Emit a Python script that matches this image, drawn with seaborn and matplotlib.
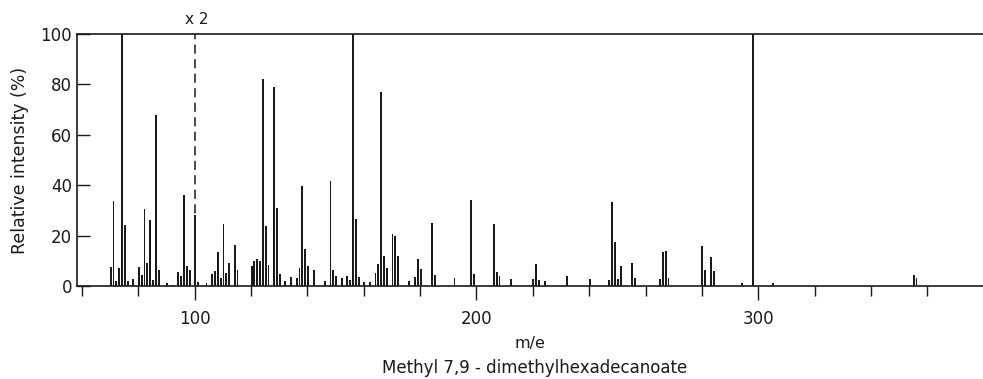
import matplotlib
matplotlib.use("Agg")
import matplotlib.pyplot as plt
import seaborn as sns
import pandas as pd

# Mass spectrum of methyl 7,9-dimethylhexadecanoate (ions above m/e 100 shown x2)
mz = [70, 71, 72, 73, 74, 75, 76, 78, 80, 81, 82, 83, 84, 85, 86, 87, 90, 92,
      94, 95, 96, 97, 98, 100, 101, 104, 106, 107, 108, 109, 110, 111, 112,
      114, 115, 120, 121, 122, 123, 124, 125, 126, 128, 129, 130, 132, 134,
      136, 137, 138, 139, 140, 142, 146, 148, 149, 150, 152, 154, 155, 156,
      157, 158, 160, 162, 164, 165, 166, 167, 168, 170, 171, 172, 176, 178,
      179, 180, 184, 185, 192, 198, 199, 206, 207, 208, 212, 220, 221, 222,
      224, 232, 240, 247, 248, 249, 250, 251, 255, 256, 265, 266, 267, 268,
      280, 281, 283, 284, 294, 298, 305, 355, 356]
intensity = [7.6, 33.6, 2.0, 7.3, 100, 24.4, 1.9, 2.7, 7.7, 4.3, 30.4, 9.3,
             26.0, 2.3, 68.0, 6.3, 1.0, 0.5, 5.7, 4.0, 36.3, 8.0, 6.4, 28.0,
             1.5, 1.2, 4.7, 5.9, 13.3, 3.3, 24.7, 5.3, 9.0, 16.4, 6.4, 8.0,
             9.9, 10.8, 10.0, 82.0, 24.0, 8.2, 79.0, 31.0, 4.6, 1.8, 3.6, 3.2,
             7.2, 39.5, 14.5, 8.0, 6.2, 1.8, 41.5, 6.4, 4.0, 3.2, 4.0, 2.4,
             100, 26.7, 3.6, 1.4, 1.4, 5.0, 8.7, 77.0, 12.0, 7.0, 20.7, 19.7,
             12.0, 1.8, 3.6, 10.7, 6.7, 25.0, 4.3, 3.1, 34.2, 4.8, 24.5, 5.4,
             3.8, 2.9, 2.7, 8.8, 2.5, 1.8, 3.9, 2.6, 2.2, 33.3, 17.3, 2.7, 7.8,
             9.1, 3.0, 2.8, 13.6, 14.0, 3.3, 15.7, 6.4, 11.6, 5.9, 1.3, 100,
             1.1, 4.5, 3.2]

scale_break = 100          # m/e above which intensities are magnified
scale_label = "x 2"
y_ticks = [0, 20, 40, 60, 80, 100]
x_major = [100, 200, 300]
x_minor = [60, 80, 120, 140, 160, 180, 220, 240, 260, 280, 320, 340, 360]

sns.set_theme(style="ticks")
plt.rcParams["font.family"] = ["DejaVu Sans"]
ink = "#1a1a1a"

fig = plt.figure(figsize=(9.83, 3.79), dpi=100)
ax = fig.add_axes([77 / 983, 93 / 379, 1 - 77 / 983, 252 / 379])

spectrum = pd.DataFrame({"mz": mz, "intensity": intensity})
sns.barplot(data=spectrum, x="mz", y="intensity", native_scale=True,
            width=0.3, color=ink, edgecolor=ink, linewidth=0.6,
            saturation=1, antialiased=False, ax=ax)

# scale-change marker
ax.axvline(scale_break, ymin=0, ymax=1, color=ink, lw=1.1,
           linestyle=(0, (6, 3.5)))
ax.text(scale_break + 0.8, 105.6, scale_label, ha="center", va="center",
        fontsize=11, color=ink, clip_on=False)

ax.set_xlim(58.2, 379.8)
ax.set_ylim(0, 100)

ax.set_yticks(y_ticks)
ax.set_yticklabels([str(v) for v in y_ticks])
ax.set_xticks(x_major)
ax.set_xticklabels([str(v) for v in x_major])
ax.set_xticks(x_minor, minor=True)

ax.tick_params(axis="y", direction="in", length=9, width=1.0, pad=3.5,
               labelsize=12, colors=ink)
ax.tick_params(axis="x", which="major", direction="out", length=10,
               width=1.0, pad=7, labelsize=12, colors=ink)
ax.tick_params(axis="x", which="minor", direction="out", length=7.5,
               width=1.0, colors=ink)

for side in ("left", "top", "bottom"):
    ax.spines[side].set_linewidth(1.2)
    ax.spines[side].set_color(ink)
ax.spines["right"].set_visible(False)

ax.set_ylabel("Relative intensity (%)", fontsize=12.5, color=ink, labelpad=8)
ax.set_xlabel("m/e", fontsize=11.5, color=ink, labelpad=6)
fig.text(535 / 983, 1 - 368 / 379, "Methyl 7,9 - dimethylhexadecanoate",
         ha="center", va="center", fontsize=12, color=ink)

ax.grid(False)
fig.savefig("out.png", dpi=100)
